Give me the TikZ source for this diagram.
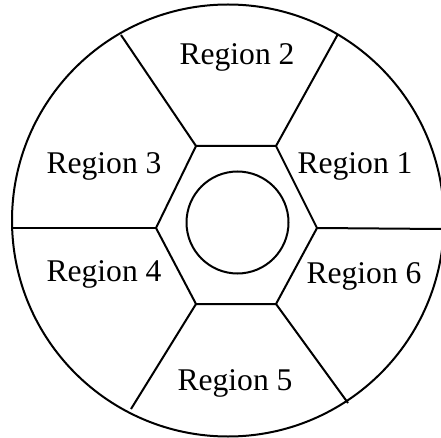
\documentclass[tikz,border=0pt]{standalone}
\usepackage{fontspec}
\setmainfont{Liberation Serif}
\begin{document}
\begin{tikzpicture}[x=1pt,y=-1pt,
  ln/.style={line width=2pt,black},
  lbl/.style={font=\fontsize{31.6}{36}\selectfont,inner sep=0pt}]
\useasboundingbox (0,0) rectangle (441,438);
% outer circle
\draw[ln] (228,220.5) circle (216);
% hexagon vertices
\coordinate (h1) at (276,146);
\coordinate (h2) at (196,146);
\coordinate (h3) at (156,228);
\coordinate (h4) at (196,304);
\coordinate (h5) at (276,304);
\coordinate (h6) at (317,228);
\draw[ln,line join=miter] (h1) -- (h2) -- (h3) -- (h4) -- (h5) -- (h6) -- cycle;
% inner circle
\draw[ln] (237.5,222.5) circle (51);
% spoke ends on outer circle
\coordinate (o1) at (338,34);
\coordinate (o2) at (121,35);
\coordinate (o3) at (12,228);
\coordinate (o4) at (131,409);
\coordinate (o5) at (348,403);
\coordinate (o6) at (441,229);
\draw[ln] (h1) -- (o1);
\draw[ln] (h2) -- (o2);
\draw[ln] (h3) -- (o3);
\draw[ln] (h4) -- (o4);
\draw[ln] (h5) -- (o5);
\draw[ln] (h6) -- (o6);
% labels
\node[lbl] (r2) at (237,57) {Region 2};
\node[lbl] (r3) at (104,166) {Region 3};
\node[lbl] (r1) at (355,166) {Region 1};
\node[lbl] (r4) at (104,274) {Region 4};
\node[lbl] (r6) at (364,276) {Region 6};
\node[lbl] (r5) at (235,383) {Region 5};
\end{tikzpicture}
\end{document}
